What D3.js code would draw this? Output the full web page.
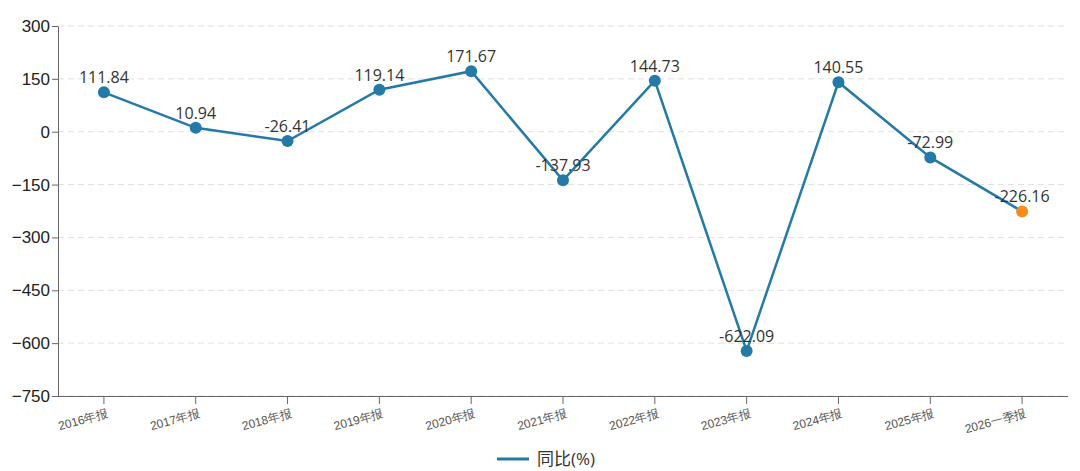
<!DOCTYPE html>
<html><head><meta charset="utf-8">
<script src="https://cdn.jsdelivr.net/npm/d3@7/dist/d3.min.js"></script>
<style>body{margin:0;background:#fff;}svg{display:block;font-family:"Open Sans","Noto Sans CJK SC",sans-serif;}</style>
</head><body><svg id="c" width="1080" height="471"></svg>
<script>
const categories = ["2016年报","2017年报","2018年报","2019年报","2020年报","2021年报","2022年报","2023年报","2024年报","2025年报","2026一季报"];
const values = [111.84,10.94,-26.41,119.14,171.67,-137.93,144.73,-622.09,140.55,-72.99,-226.16];
const yTicks = [300,150,0,-150,-300,-450,-600,-750];
const seriesName = "同比(%)";

const svg = d3.select("#c");
const mLeft = 58, mRight = 1068, mTop = 26, mBottom = 396;
const x = d3.scaleBand().domain(categories).range([mLeft, mRight]);
const y = d3.scaleLinear().domain([-750, 300]).range([mBottom, mTop]);
const cx = d => x(d) + x.bandwidth()/2;

// grid
svg.append("g").selectAll("line").data(yTicks).join("line")
  .attr("x1", mLeft).attr("x2", mRight).attr("y1", d=>y(d)).attr("y2", d=>y(d))
  .attr("stroke", "#e0e0e0").attr("stroke-dasharray", "6,4");

// y axis
const ya = svg.append("g").attr("transform", `translate(${mLeft},0)`)
  .call(d3.axisLeft(y).tickValues(yTicks).tickSize(6).tickSizeOuter(0).tickPadding(2));
ya.select(".domain").attr("stroke", "#666");
ya.selectAll(".tick line").attr("stroke", "#666");
ya.selectAll(".tick text").attr("font-size", 17).attr("fill", "#222");

// x axis
const xa = svg.append("g").attr("transform", `translate(0,${mBottom})`)
  .call(d3.axisBottom(x).tickSize(8).tickSizeOuter(0).tickPadding(3));
xa.select(".domain").attr("stroke", "#666").attr("d", `M${mLeft},0.5H${mRight}`);
xa.selectAll(".tick line").attr("stroke", "#666");
xa.selectAll(".tick text").attr("font-size", 12).attr("fill", "#555")
  .attr("text-anchor", "end").attr("dy", "0.9em")
  .attr("transform", "translate(-1,0) rotate(-15)");

// line
const line = d3.line().x((d,i)=>cx(categories[i])).y(d=>y(d));
svg.append("path").datum(values).attr("d", line)
  .attr("fill", "none").attr("stroke", "#2479a7").attr("stroke-width", 2.5);

// points
svg.append("g").selectAll("circle").data(values).join("circle")
  .attr("cx", (d,i)=>cx(categories[i])).attr("cy", d=>y(d)).attr("r", 6)
  .attr("fill", (d,i)=> i === values.length-1 ? "#f58d1f" : "#2479a7");

// labels
svg.append("g").selectAll("text").data(values).join("text")
  .attr("x", (d,i)=>cx(categories[i])).attr("y", d=>y(d)-9)
  .attr("text-anchor", "middle").attr("font-size", 16).attr("fill", "#333")
  .text(d=>d.toFixed(2));

// legend
svg.append("line").attr("x1", 497).attr("x2", 529).attr("y1", 459).attr("y2", 459)
  .attr("stroke", "#2479a7").attr("stroke-width", 3);
svg.append("text").attr("x", 537).attr("y", 465).attr("font-size", 17).attr("fill", "#333").text(seriesName);
</script></body></html>
